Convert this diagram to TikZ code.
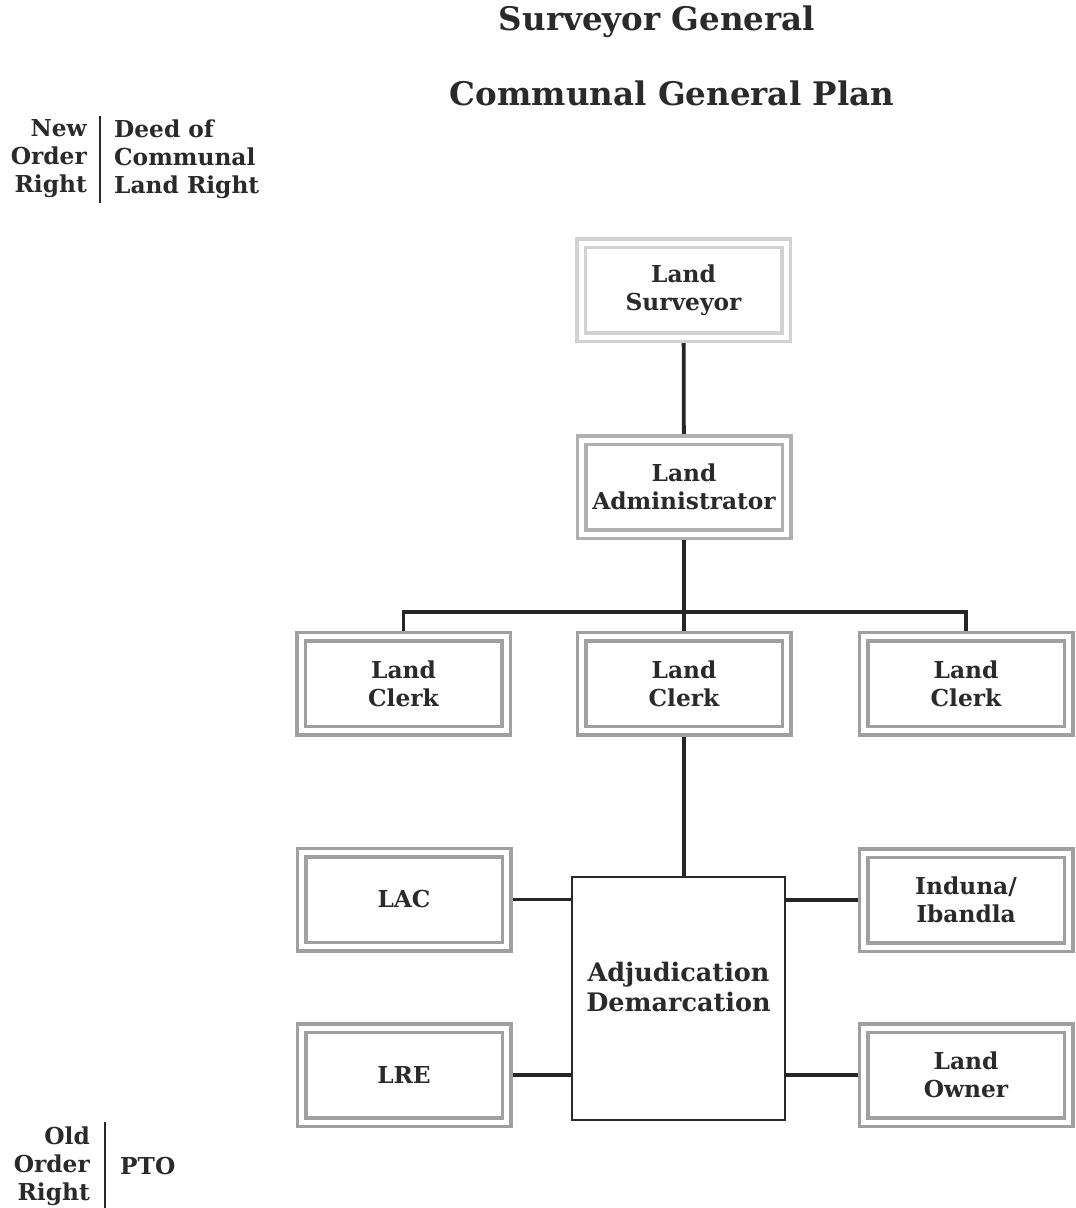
\documentclass[tikz,border=0pt]{standalone}
\usepackage{fontspec}
\setmainfont{DejaVu Serif}
\usetikzlibrary{backgrounds}
\definecolor{txt}{HTML}{2A2A2A}
\definecolor{bdA}{HTML}{D2D2D2}
\definecolor{bdB}{HTML}{B0B0B0}
\definecolor{bdC}{HTML}{A0A0A0}
\begin{document}
\begin{tikzpicture}[x=1pt,y=-1pt,
  every node/.style={text=txt,font=\fontsize{23.3}{28}\selectfont\bfseries,inner sep=0pt},
  dbox/.style={draw=#1,line width=3.5pt,double=white,double distance=5pt,fill=white,
    minimum width=205pt,minimum height=94pt,align=center},
  conn/.style={line width=3.8pt,draw=black!85}]
\useasboundingbox (0,0) rectangle (1076,1208);
% titles
\node (t1) at (657,22) {\fontsize{32.5}{38}\selectfont Surveyor General};
\node (t2) at (672,93) {\fontsize{32.5}{38}\selectfont Communal General Plan};
% legend top
\node[align=right,anchor=east] (nor) at (87,159) {New\\Order\\Right};
\node[align=left,anchor=west] (dcl) at (114,159) {Deed of\\Communal\\Land Right};
\coordinate (l1a) at (100,116); \coordinate (l1b) at (100,203);
\draw[line width=1.2pt,txt] (l1a) -- (l1b);
% legend bottom
\node[align=right,anchor=east] (oor) at (90,1166) {Old\\Order\\Right};
\node[anchor=west] (pto) at (120,1166) {PTO};
\coordinate (l2a) at (105,1122); \coordinate (l2b) at (105,1208);
\draw[line width=1.2pt,txt] (l2a) -- (l2b);
% boxes
\node[dbox=bdA] (sur) at (683.5,290) {Land\\Surveyor};
\node[dbox=bdB] (adm) at (684,487) {Land\\Administrator};
\node[dbox=bdC] (c1) at (403.5,683.5) {Land\\Clerk};
\node[dbox=bdC] (c2) at (684,683.5) {Land\\Clerk};
\node[dbox=bdC] (c3) at (966,683.5) {Land\\Clerk};
\node[dbox=bdC] (lac) at (404,899.5) {LAC};
\node[dbox=bdC] (lre) at (404,1075) {LRE};
\node[dbox=bdC] (ind) at (966,900) {Induna/\\Ibandla};
\node[dbox=bdC] (own) at (966,1075) {Land\\Owner};
\node[draw=txt,line width=1.5pt,fill=white,minimum width=213pt,minimum height=243pt] (adj) at (678.5,998.5) {};
\node[align=center,font=\fontsize{25.5}{30}\selectfont\bfseries] (adjt) at (678.5,987) {Adjudication\\Demarcation};
\coordinate (bus) at (684,612);
\begin{scope}[on background layer]
\draw[conn] (sur) -- (adm);
\draw[conn] (adm) -- (bus);
\draw[conn] (c1.north) |- (bus);
\draw[conn] (c3.north) |- (bus);
\draw[conn] (c2) -- (bus);
\draw[conn] (c2) -- (c2 |- adj.north);
\draw[conn] (lac.east) -- (lac.east -| adj.west);
\draw[conn] (lre.east) -- (lre.east -| adj.west);
\draw[conn] (ind.west) -- (ind.west -| adj.east);
\draw[conn] (own.west) -- (own.west -| adj.east);
\end{scope}
\end{tikzpicture}
\end{document}
